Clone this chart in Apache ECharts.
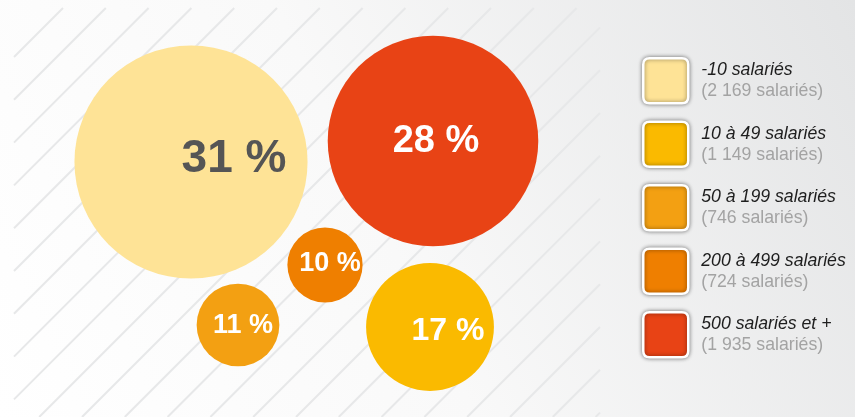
<!DOCTYPE html>
<html>
<head>
<meta charset="utf-8">
<script src="https://cdn.jsdelivr.net/npm/echarts@6/dist/echarts.min.js"></script>
<style>
html,body{margin:0;padding:0;background:#fff;}
#chart{width:855px;height:417px;}
</style>
</head>
<body>
<div id="chart"></div>
<script>
// ---- data ----
const categories = ['-10 salariés', '10 à 49 salariés', '50 à 199 salariés', '200 à 499 salariés', '500 salariés et +'];
const shares = [31, 17, 11, 10, 28];            // percent
const headcounts = ['2 169', '1 149', '746', '724', '1 935'];

// ---- layout / style (not data) ----
const colors = ['#FEE396', '#FABA00', '#F3A012', '#EF7F00', '#E84315'];
const bubbleAnchors = [[191, 162], [430, 327], [238, 325], [325, 265], [433, 141]];
const labelOffsets = [[43, -3], [18, 4], [5, 1], [5, -1], [3, 1]];
const labelSizes = [46, 32, 27, 27, 38];
const labelColors = ['#555555', '#ffffff', '#ffffff', '#ffffff', '#ffffff'];

const chart = echarts.init(document.getElementById('chart'), null, {renderer: 'canvas'});

// decorative diagonal stripes
const stripes = [];
const X0 = 14, X1 = 600, Y0 = 8, Y1 = 417;
for (let c = 71; c < X1 + Y1; c += 42.8) {
  const ymin = Math.max(Y0, c - X1), ymax = Math.min(Y1, c - X0);
  if (ymin < ymax) {
    stripes.push({
      type: 'line', silent: true, z: 0,
      shape: {x1: c - ymin, y1: ymin, x2: c - ymax, y2: ymax},
      style: {stroke: '#e7e8e9', lineWidth: 2}
    });
  }
}

const roundSquare = 'path://M14,0 H86 Q100,0 100,14 V86 Q100,100 86,100 H14 Q0,100 0,86 V14 Q0,0 14,0 Z';

const series = categories.map((name, i) => ({
  type: 'scatter',
  name: name,
  data: [[bubbleAnchors[i][0], bubbleAnchors[i][1], shares[i]]],
  symbol: 'circle',
  symbolSize: v => v[2] * 7.52,
  itemStyle: {color: colors[i], opacity: 1},
  label: {
    show: true,
    position: 'inside',
    offset: labelOffsets[i],
    formatter: p => p.value[2] + ' %',
    fontFamily: 'Liberation Sans, Arial, sans-serif',
    fontWeight: 'bold',
    fontSize: labelSizes[i],
    color: labelColors[i]
  },
  emphasis: {disabled: true},
  silent: true,
  z: 2
}));

chart.setOption({
  animation: false,
  backgroundColor: {
    type: 'linear', x: 0, y: 1, x2: 1, y2: 0,
    colorStops: [
      {offset: 0, color: '#ffffff'},
      {offset: 0.45, color: '#f9f9f9'},
      {offset: 1, color: '#e3e4e5'}
    ]
  },
  graphic: {elements: stripes},
  grid: {left: 0, right: 0, top: 0, bottom: 0},
  xAxis: {type: 'value', min: 0, max: 855, show: false},
  yAxis: {type: 'value', min: 0, max: 417, inverse: true, show: false},
  legend: {
    orient: 'vertical',
    left: 637,
    top: 52,
    itemWidth: 45,
    itemHeight: 45,
    itemGap: 16,
    icon: roundSquare,
    selectedMode: false,
    data: categories,
    itemStyle: {
      borderColor: '#ffffff',
      borderWidth: 2.5,
      shadowBlur: 4,
      shadowColor: 'rgba(0,0,0,0.45)'
    },
    formatter: name => {
      const i = categories.indexOf(name);
      return '{a|' + name + '}\n{b|(' + headcounts[i] + ' salariés)}';
    },
    textStyle: {
      rich: {
        a: {fontFamily: 'Liberation Sans, Arial, sans-serif', fontStyle: 'italic', fontSize: 17.7, color: '#1e1e1e', lineHeight: 21, padding: [0, 0, 0, 8]},
        b: {fontFamily: 'Liberation Sans, Arial, sans-serif', fontSize: 17.7, color: '#a3a3a3', lineHeight: 21, padding: [0, 0, 0, 8]}
      }
    }
  },
  series: series
});
</script>
</body>
</html>
